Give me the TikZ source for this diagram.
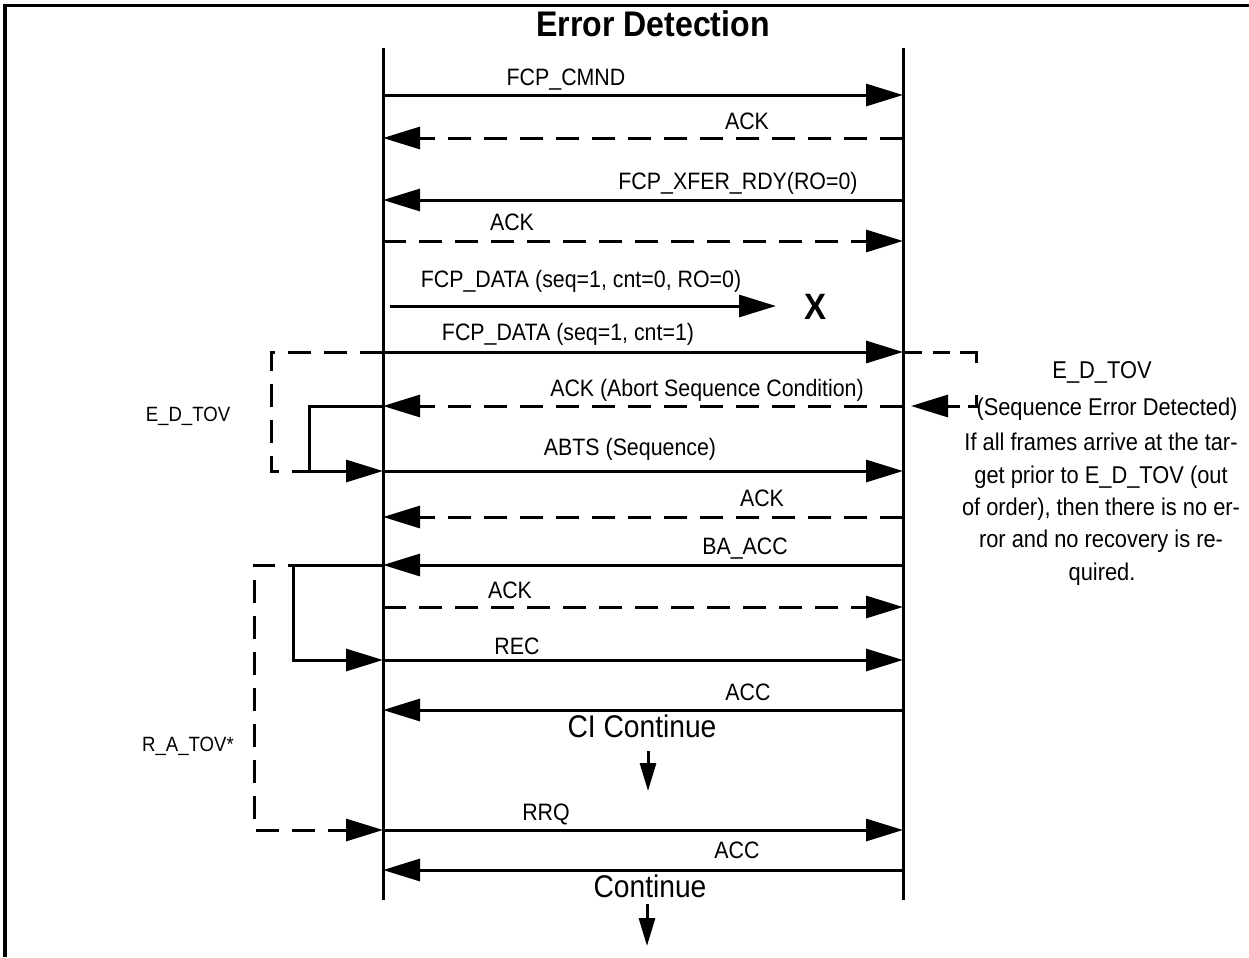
\documentclass[tikz,border=0pt]{standalone}
\usepackage{fontspec}
\setmainfont{Liberation Sans}[FakeStretch=0.9]
\usetikzlibrary{arrows.meta}
\begin{document}
\begin{tikzpicture}[x=0.75pt,y=-0.75pt,
  msg/.style={line width=2.25pt, -{Triangle[length=27.75pt,width=16.5pt]}},
  dmsg/.style={msg, dash pattern=on 17.25pt off 9.75pt},
  bracket/.style={line width=2.25pt},
  dbracket/.style={line width=2.25pt, dash pattern=on 17.25pt off 9.75pt},
  lbl/.style={font=\fontsize{17.8}{21}\selectfont, inner sep=0pt, anchor=base},
  notelbl/.style={font=\fontsize{18.2}{21}\selectfont, inner sep=0pt, anchor=base},
  sidelbl/.style={font=\fontsize{15.5}{18}\selectfont, inner sep=0pt, anchor=base},
  big/.style={font=\fontsize{23.5}{27}\selectfont, inner sep=0pt, anchor=base},
  cont/.style={line width=2.25pt, -{Triangle[length=21pt,width=12pt]}},
  life/.style={line width=2.25pt}
]
\useasboundingbox (0,0) rectangle (1249,957);
% frame
\draw[line width=2.6pt] (5,957) -- (5,5.5) -- (1249,5.5);
\node[font=\bfseries\fontsize{26.7}{30}\selectfont, inner sep=0pt, anchor=base] (title) at (653,36) {Error Detection};

% lifelines
\coordinate (Ltop) at (383,48); \coordinate (Lbot) at (383,900);
\coordinate (Rtop) at (903,48); \coordinate (Rbot) at (903,900);
\draw[life] (Ltop) -- (Lbot);
\draw[life] (Rtop) -- (Rbot);

\foreach \n/\y in {1/95,2/138,3/200,4/241,6/352,7/406,8/471,9/517,10/565,11/607,12/660,13/710,14/830,15/870}{
  \coordinate (L\n) at (383,\y);
  \coordinate (R\n) at (903,\y);
}

% messages
\draw[msg] (L1) -- (R1);
\node[lbl] (m1) at (566,85) {FCP\_CMND};
\draw[dmsg] (R2) -- (L2);
\node[lbl] (m2) at (747,129) {ACK};
\draw[msg] (R3) -- (L3);
\node[lbl] (m3) at (738,189) {FCP\_XFER\_RDY(RO=0)};
\draw[dmsg] (L4) -- (R4);
\node[lbl] (m4) at (512,230) {ACK};

\coordinate (D0s) at (390,306); \coordinate (D0e) at (776,306);
\draw[msg] (D0s) -- (D0e);
\node[lbl] (m5) at (581,287) {FCP\_DATA (seq=1, cnt=0, RO=0)};
\node[font=\bfseries\fontsize{27.5}{30}\selectfont, inner sep=0pt, anchor=base] (lost) at (815,319) {X};

\draw[msg] (L6) -- (R6);
\node[lbl] (m6) at (568,340) {FCP\_DATA (seq=1, cnt=1)};
\draw[dmsg] (R7) -- (L7);
\node[lbl] (m7) at (707,396) {ACK (Abort Sequence Condition)};
\draw[msg] (L8) -- (R8);
\node[lbl] (m8) at (630,455) {ABTS (Sequence)};
\draw[dmsg] (R9) -- (L9);
\node[lbl] (m9) at (762,506) {ACK};
\draw[msg] (R10) -- (L10);
\node[lbl] (m10) at (745,554) {BA\_ACC};
\draw[dmsg] (L11) -- (R11);
\node[lbl] (m11) at (510,598) {ACK};
\draw[msg] (L12) -- (R12);
\node[lbl] (m12) at (517,654) {REC};
\draw[msg] (R13) -- (L13);
\node[lbl] (m13) at (748,700) {ACC};
\node[big] (ci) at (642,737) {CI Continue};
\coordinate (c1a) at (648,751); \coordinate (c1b) at (648,791);
\draw[cont] (c1a) -- (c1b);
\draw[msg] (L14) -- (R14);
\node[lbl] (m14) at (546,820) {RRQ};
\draw[msg] (R15) -- (L15);
\node[lbl] (m15) at (737,858) {ACC};
\node[big] (cont2) at (650,897) {Continue};
\coordinate (c2a) at (647,904); \coordinate (c2b) at (647,946);
\draw[cont] (c2a) -- (c2b);

% E_D_TOV bracket (left)
\coordinate (eA) at (271,352); \coordinate (eB) at (271,471);
\coordinate (eC) at (309,406); \coordinate (eD) at (309,471);
\draw[dbracket] (L6) -- (eA) -- (eB) -- (eD);
\draw[msg] (L7) -- (eC) -- (eD) -- (L8);
\node[sidelbl] (edl) at (188,421) {E\_D\_TOV};

% E_D_TOV bracket (right)
\coordinate (rA) at (976,352); \coordinate (rB) at (976,406); \coordinate (rC) at (911,406);
\draw[msg, dash pattern=on 14.25pt off 8.25pt on 12.75pt off 7.5pt on 20.25pt off 24pt on 14.25pt off 6pt on 9pt off 20pt]
  (R6) -- (rA) -- (rB) -- (rC);

% R_A_TOV bracket
\coordinate (aA) at (254,565); \coordinate (aB) at (254,830);
\coordinate (aC) at (293,565); \coordinate (aD) at (293,660);
\draw[dmsg] (L10) -- (aA) -- (aB) -- (L14);
\draw[msg] (L10) -- (aC) -- (aD) -- (L12);
\node[sidelbl] (ral) at (188,751) {R\_A\_TOV*};

% note on the right
\node[notelbl] (n0) at (1102,378) {E\_D\_TOV};
\node[notelbl] (n1) at (1107,415) {(Sequence Error Detected)};
\node[notelbl] (n2) at (1101,450) {If all frames arrive at the tar-};
\node[notelbl] (n3) at (1101,483) {get prior to E\_D\_TOV (out};
\node[notelbl] (n4) at (1101,515) {of order), then there is no er-};
\node[notelbl] (n5) at (1101,547) {ror and no recovery is re-};
\node[notelbl] (n6) at (1102,580) {quired.};
\end{tikzpicture}
\end{document}
